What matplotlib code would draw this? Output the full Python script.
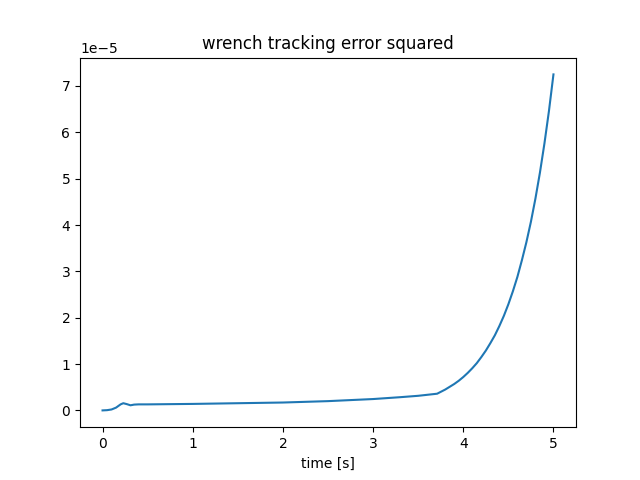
import numpy as np
import matplotlib
matplotlib.use("Agg")
import matplotlib.pyplot as plt

# values (error in units of 1e-5)
time = [0.0, 0.05, 0.1, 0.15, 0.2, 0.23, 0.27, 0.31, 0.35, 0.4, 0.5, 0.75,
        1.0, 1.5, 2.0, 2.5, 3.0, 3.3, 3.5, 3.71,
        3.75, 3.8, 3.85, 3.9, 3.95, 4.0, 4.05, 4.1, 4.15, 4.2, 4.25, 4.3,
        4.35, 4.4, 4.45, 4.5, 4.55, 4.6, 4.65, 4.7, 4.75, 4.8, 4.85, 4.9,
        4.95, 5.0]
err = [0.0, 0.005, 0.02, 0.06, 0.13, 0.155, 0.135, 0.11, 0.125, 0.13, 0.13, 0.135,
       0.14, 0.155, 0.17, 0.20, 0.245, 0.285, 0.315, 0.36,
       0.40, 0.45, 0.51, 0.57, 0.64, 0.72, 0.81, 0.91, 1.02, 1.15, 1.29, 1.45,
       1.62, 1.82, 2.04, 2.29, 2.57, 2.88, 3.24, 3.63, 4.07, 4.57, 5.13, 5.76,
       6.46, 7.25]

fig, ax = plt.subplots(figsize=(6.4, 4.8), dpi=100)
ax.plot(time, np.array(err) * 1e-5)
ax.set_title("wrench tracking error squared")
ax.set_xlabel("time [s]")
fig.savefig("out.png")
